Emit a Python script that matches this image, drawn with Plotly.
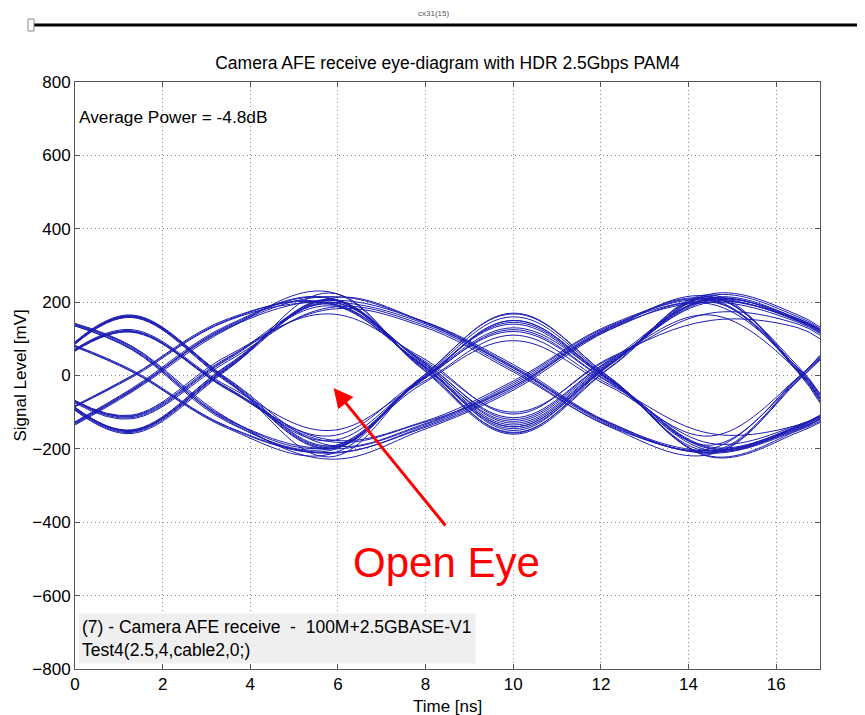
import plotly.graph_objects as go

# ---- data ----
time_knots = [0, 1.3, 3.5, 5.8, 7.9, 10.0, 12.2, 14.5, 16.5, 17.0]   # ns

w01 = [88, 162, -15, -195, -15, 150, -10, -200, -140, -112]
w02 = [92, 165, -10, -190, -135, -20, 135, 205, 152, 122]
w03 = [70, 122, -35, -165, -10, 120, -20, -190, -8, 48]
w04 = [66, 118, -40, -180, -130, -30, 125, 195, 20, -55]
w05 = [-90, -152, 25, 205, 38, -130, 35, 210, 148, 118]
w06 = [-94, -155, 20, 210, 150, 25, -130, -205, -138, -110]
w07 = [-72, -115, 45, 190, 45, -100, 45, 165, 12, -62]
w08 = [-75, -118, 40, 185, 140, 15, -140, -215, -15, 45]
w09 = [-130, -40, 135, 210, 25, -157, 28, 218, 160, 128]
w10 = [-126, -35, 138, 212, 30, -140, 30, 212, 18, -58]
w11 = [-85, -5, 150, 200, 145, 20, -135, -210, -145, -118]
w12 = [138, 75, -125, -205, -5, 170, -5, -220, -150, -125]
w13 = [135, 70, -128, -200, -25, 95, -30, -165, -5, 55]
w14 = [82, 15, -140, -210, -145, -35, 128, 200, 145, 115]
w15 = [78, 10, -145, -215, -10, 140, -15, -205, -142, -120]
w16 = [-88, -148, 30, 200, 40, -115, 40, 170, 140, 110]
w17 = [85, 158, -20, -200, -8, 160, -8, -212, -12, 42]
w18 = [-132, -42, 130, 205, 150, 30, -128, -200, -5, 52]
w19 = [72, 125, -30, -150, -20, 110, -25, -158, -135, -108]
w20 = [-70, -112, 48, 195, 30, -150, 30, 205, 155, 125]
w21 = [140, 78, -120, -200, -138, -25, 132, 208, 15, -65]
w22 = [-82, 0, 155, 195, 35, -125, 38, 200, 150, 118]
w23 = [-92, -150, 22, 208, 28, -145, 28, 215, 10, -70]
w24 = [90, 160, -12, -192, -12, 130, -12, -195, -138, -112]
w25 = [68, 120, -38, -175, -128, -15, 138, 210, 150, 125]
w26 = [-70, -110, 50, 180, 135, 10, -138, -208, -140, -115]
w27 = [-86, -150, 28, 198, 42, -120, 42, 200, 20, -50]
w28 = [136, 72, -122, -195, -12, 150, -12, -205, -8, 52]
w29 = [-128, -38, 132, 215, 148, 22, -132, -212, -148, -120]
w30 = [80, 12, -142, -212, -142, -30, 130, 205, 12, -65]
w31 = [86, 160, -18, -198, -12, 145, -12, -198, -145, -118]
w32 = [-84, -2, 152, 198, 32, -135, 33, 208, 152, 122]
w33 = [-88, -152, 24, 206, 30, -140, 30, 212, 155, 125]
w34 = [70, 120, -36, -178, -14, 125, -18, -185, -135, -110]
w35 = [-135, -45, 128, 228, 20, -160, 20, 222, 165, 132]
w36 = [142, 80, -118, -228, -150, -40, 125, 215, 25, -50]
w37 = [90, 163, -15, -222, -5, 168, -5, -222, -155, -128]
w38 = [-95, -158, 18, 225, 22, -155, 22, 220, 8, -75]
w39 = [-68, -108, 55, 168, 50, -105, 48, 150, 130, 100]

waveforms = [w01, w02, w03, w04, w05, w06, w07, w08, w09, w10, w11, w12,
             w13, w14, w15, w16, w17, w18, w19, w20, w21, w22, w23, w24,
             w25, w26, w27, w28, w29, w30, w31, w32, w33, w34, w35, w36,
             w37, w38, w39]

x_ticks = [0, 2, 4, 6, 8, 10, 12, 14, 16]
y_ticks = [-800, -600, -400, -200, 0, 200, 400, 600, 800]

title_text = "Camera AFE receive eye-diagram with HDR 2.5Gbps PAM4"
power_text = "Average Power = -4.8dB"
info_lines = ["(7) - Camera AFE receive \u00a0- \u00a0100M+2.5GBASE-V1", "Test4(2.5,4,cable2,0;)"]

FONT = "Liberation Sans, Arial, sans-serif"

# page body has an 8px margin: figure is placed at (8, 8) in the window
W, H = 857, 707

fig = go.Figure()
for w in waveforms:
    fig.add_trace(go.Scatter(
        x=time_knots, y=w, mode="lines",
        line=dict(color="#1c1cb4", width=1, shape="spline", smoothing=1.1),
        hoverinfo="skip", showlegend=False))

axis_common = dict(
    showline=True, linecolor="#555555", linewidth=1, mirror="allticks",
    ticks="inside", ticklen=5, tickcolor="#555555",
    showgrid=True, gridcolor="#8a8a8a", griddash="1px,3px", gridwidth=1,
    zeroline=False, tickfont=dict(family=FONT, size=17, color="black"),
)

fig.update_xaxes(range=[0, 17], tickvals=x_ticks, **axis_common)
fig.update_yaxes(range=[-800, 800], tickvals=y_ticks, **axis_common)

fig.update_layout(
    width=W, height=H,
    margin=dict(l=67, r=45, t=74, b=46),
    plot_bgcolor="white", paper_bgcolor="white",
    font=dict(family=FONT, size=17, color="black"),
    title=dict(text=title_text, x=(447.5 - 8) / W, xanchor="center", y=1 - 55 / H,
               yanchor="middle", yref="container",
               font=dict(family=FONT, size=17.5, color="black")),
)

annotations = [
    dict(text=power_text, x=0.05, y=704, xref="x", yref="y", xanchor="left",
         yanchor="middle", showarrow=False, font=dict(size=17.3, family=FONT)),
    dict(text="<br>".join(info_lines), x=0.07, y=-717, xref="x", yref="y",
         xanchor="left", yanchor="middle", align="left", showarrow=False,
         bgcolor="#efefef", borderpad=3, font=dict(size=17.5, family=FONT)),
    dict(text="", x=5.9, y=-34, xref="x", yref="y", ax=8.48, ay=-413,
         axref="x", ayref="y", showarrow=True, arrowhead=2, arrowsize=1.3,
         arrowwidth=3, arrowcolor="#ff0000"),
    dict(text="Open Eye", x=8.48, y=-511, xref="x", yref="y", xanchor="center",
         yanchor="middle", showarrow=False,
         font=dict(size=42, family=FONT, color="#ff0000")),
    dict(text="Time [ns]", x=0.5, y=0, xref="paper", yref="paper", xanchor="center",
         yanchor="top", yshift=-26, showarrow=False, font=dict(size=17, family=FONT)),
    dict(text="Signal Level [mV]", x=0, y=0.5, xref="paper", yref="paper",
         xanchor="center", yanchor="middle", xshift=-55, textangle=-90,
         showarrow=False, font=dict(size=17, family=FONT)),
    dict(text="cx31(15)", x=(433 - 75) / 745, y=(669 - 13) / 587, xref="paper",
         yref="paper", xanchor="center", yanchor="middle", showarrow=False,
         font=dict(size=8, family=FONT, color="#555555")),
]
fig.update_layout(annotations=annotations)

bar_y = (669 - 25) / 587
fig.add_shape(type="line", xref="paper", yref="paper",
              x0=(30 - 75) / 745, x1=(865 - 75) / 745, y0=bar_y, y1=bar_y,
              line=dict(color="black", width=3))
for px0, px1 in [(28, 34), (858, 864)]:
    fig.add_shape(type="rect", xref="paper", yref="paper",
                  x0=(px0 - 75) / 745, x1=(px1 - 75) / 745,
                  y0=(669 - 31) / 587, y1=(669 - 19) / 587,
                  fillcolor="white", line=dict(color="#888888", width=1))

fig.write_html("out.html")
